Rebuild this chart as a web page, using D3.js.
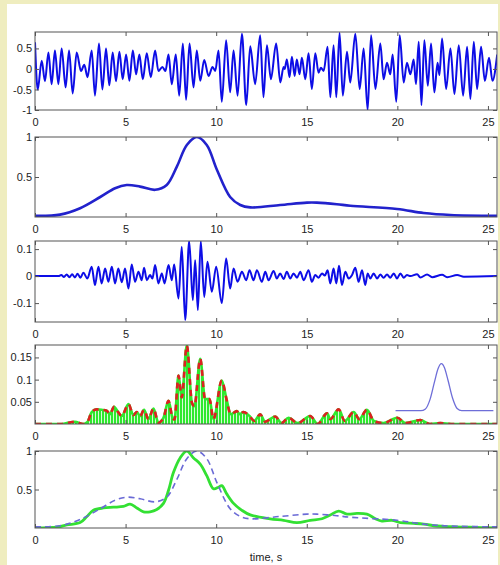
<!DOCTYPE html>
<html><head><meta charset="utf-8">
<script src="https://cdn.jsdelivr.net/npm/d3@7"></script>
<style>
html,body{margin:0;padding:0;background:#efedbf;}
svg{display:block;}
text{font-family:"Liberation Sans",Arial,sans-serif;}
</style></head>
<body>
<svg id="chart" width="500" height="565"></svg>
<script>
// ---------- data ----------
const xTicks = [0, 5, 10, 15, 20, 25];

// panel 1: raw signal, extrema [time s, value]
const rawSignal = [[0,0.65],[0.15,-0.5],[0.37,0.2],[0.55,-0.3],[0.74,0.4],[0.92,-0.37],[1.1,0.45],[1.29,-0.37],[1.47,0.5],[1.69,-0.45],[1.88,0.45],[2.08,-0.6],[2.3,0.4],[2.54,-0.05],[2.72,0.1],[2.9,-0.2],[3.13,0.45],[3.31,-0.65],[3.53,0.62],[3.72,-0.5],[3.92,0.5],[4.1,-0.4],[4.29,0.4],[4.47,-0.3],[4.66,0.42],[4.84,-0.25],[5.03,0.35],[5.21,-0.29],[5.4,0.45],[5.58,-0.13],[5.76,0.35],[5.95,-0.25],[6.17,0.38],[6.39,-0.2],[6.63,0.45],[6.81,-0.05],[7.03,0.05],[7.2,-0.05],[7.37,0.35],[7.55,-0.37],[7.77,0.35],[7.96,-0.65],[8.16,0.62],[8.34,-0.75],[8.53,0.62],[8.75,-0.45],[8.93,0.45],[9.12,-0.29],[9.34,0.22],[9.58,-0.17],[9.8,0.05],[9.95,-0.05],[10.13,0.45],[10.31,-0.8],[10.55,0.7],[10.77,-0.57],[10.96,0.45],[11.18,-0.65],[11.42,0.86],[11.66,-0.88],[11.88,0.55],[12.15,-0.37],[12.43,0.82],[12.61,-0.69],[12.8,0.58],[13.02,-0.25],[13.31,0.62],[13.54,-0.33],[13.72,0.05],[13.78,-0.0],[13.9,0.23],[14.05,-0.2],[14.18,0.3],[14.33,-0.17],[14.45,0.23],[14.6,-0.13],[14.73,0.27],[14.92,-0.25],[15.1,0.38],[15.28,-0.49],[15.47,0.38],[15.65,-0.09],[15.78,0.03],[15.93,-0.05],[16.15,0.54],[16.3,-0.69],[16.48,0.58],[16.63,-0.69],[16.81,0.88],[16.99,-0.65],[17.22,0.42],[17.4,-0.33],[17.68,0.86],[17.92,-0.49],[18.14,0.5],[18.36,-1.0],[18.55,0.82],[18.79,-0.49],[19.06,0.62],[19.24,-0.25],[19.43,0.15],[19.61,-0.13],[19.74,0.35],[19.94,-0.8],[20.13,0.82],[20.35,-0.33],[20.53,0.15],[20.72,-0.13],[20.9,0.23],[21.03,-0.37],[21.18,0.66],[21.33,-0.88],[21.49,0.7],[21.68,-0.41],[21.86,0.62],[22.04,-0.57],[22.22,0.15],[22.32,-0.15],[22.47,0.74],[22.69,-0.49],[22.93,0.5],[23.15,-0.61],[23.39,0.58],[23.63,-0.65],[23.85,0.54],[24.03,-0.73],[24.22,0.66],[24.4,-0.49],[24.62,0.54],[24.83,-0.29],[25.06,0.27],[25.25,-0.29],[25.51,0.35]];

// panel 2 (and dashed in panel 5): smooth envelope
const envelope = [[0,0.015],[1.38,0.03],[2.49,0.11],[3.6,0.25],[4.42,0.36],[5.06,0.4],[5.8,0.38],[6.63,0.34],[7.27,0.4],[7.83,0.63],[8.38,0.9],[8.93,1.0],[9.48,0.9],[10.04,0.59],[10.77,0.25],[11.33,0.15],[11.88,0.12],[13.53,0.15],[15.01,0.18],[15.56,0.18],[16.66,0.16],[17.4,0.14],[19.98,0.1],[21.45,0.05],[22.93,0.025],[25.5,0.015]];

// panel 3: filtered signal, extrema
const filtered = [[0,0],[1.3,0],[1.45,0.004],[1.6,-0.003],[1.75,0.006],[1.9,-0.004],[2.05,0.007],[2.2,-0.005],[2.35,0.009],[2.5,-0.006],[2.67,0.012],[2.89,-0.009],[3.13,0.035],[3.31,-0.033],[3.5,0.035],[3.68,-0.027],[3.87,0.028],[4.05,-0.021],[4.24,0.035],[4.42,-0.027],[4.6,0.028],[4.79,-0.023],[4.97,0.028],[5.16,-0.046],[5.34,0.043],[5.52,-0.021],[5.71,0.016],[5.89,-0.015],[6.02,0.031],[6.17,-0.015],[6.35,0.004],[6.48,-0.009],[6.63,0.041],[6.81,-0.027],[7.0,0.01],[7.15,-0.027],[7.37,0.041],[7.55,-0.015],[7.68,0.043],[7.92,-0.083],[8.1,0.109],[8.29,-0.163],[8.51,0.13],[8.71,-0.089],[8.84,0.059],[8.99,-0.126],[9.15,0.13],[9.34,-0.077],[9.52,0.053],[9.76,-0.058],[10.0,0.035],[10.31,-0.1],[10.55,0.065],[10.77,-0.046],[10.96,0.028],[11.18,-0.021],[11.42,0.016],[11.66,-0.015],[11.84,0.022],[12.06,-0.015],[12.25,0.022],[12.52,-0.021],[12.71,0.016],[12.89,-0.015],[13.17,0.019],[13.35,-0.009],[13.53,0.01],[13.72,-0.011],[13.9,0.016],[14.09,-0.009],[14.27,0.01],[14.46,-0.006],[14.64,0.016],[14.83,-0.015],[15.1,0.022],[15.28,-0.021],[15.47,0.004],[15.65,-0.006],[15.84,0.01],[16.0,0.002],[16.15,0.022],[16.3,-0.027],[16.48,0.028],[16.63,-0.027],[16.78,0.038],[16.94,-0.033],[17.13,0.016],[17.31,-0.009],[17.5,0.004],[17.68,0.031],[17.86,-0.021],[18.05,0.022],[18.23,-0.033],[18.36,0.01],[18.51,-0.009],[18.69,0.01],[18.88,-0.009],[19.06,0.006],[19.24,-0.006],[19.43,0.006],[19.61,-0.006],[19.8,0.01],[19.98,-0.009],[20.17,0.01],[20.35,-0.006],[20.53,0.004],[20.72,0],[21.09,0.007],[21.27,-0.005],[21.64,0.006],[21.92,-0.004],[22.47,0.005],[22.75,-0.004],[23.3,0.004],[23.67,-0.002],[25.5,0]];

// panel 4: instantaneous power envelope
const power = [[0,0],[1.4,0],[1.75,0.002],[2.2,0.005],[2.67,0],[2.9,0.005],[3.13,0.027],[3.4,0.033],[3.68,0.032],[3.96,0.03],[4.14,0.022],[4.36,0.039],[4.6,0.026],[4.79,0.018],[5.16,0.045],[5.43,0.02],[5.62,0.027],[5.8,0.018],[6.02,0.032],[6.26,0.011],[6.54,0.035],[6.81,0.003],[7.09,0.014],[7.37,0.052],[7.59,0.014],[7.7,0.01],[7.92,0.109],[8.1,0.06],[8.38,0.177],[8.66,0.048],[8.8,0.04],[9.12,0.147],[9.39,0.056],[9.63,0.056],[9.85,0.011],[10.31,0.098],[10.59,0.052],[10.8,0.022],[11.14,0.029],[11.3,0.022],[11.5,0.027],[11.84,0.018],[12.1,0.007],[12.43,0.022],[12.7,0.005],[13.26,0.017],[13.6,0.002],[14.0,0.014],[14.5,0.002],[15.19,0.018],[15.6,0],[16.12,0.024],[16.3,0.011],[16.76,0.033],[17.1,0.007],[17.59,0.027],[17.9,0.011],[18.32,0.032],[18.7,0.007],[19.24,0.002],[20.0,0.014],[20.45,0.002],[21.27,0.009],[21.8,0],[22.37,0.002],[23.0,0],[25.5,0]];

// panel 4 inset: smoothing kernel
const kernel = [[19.9,0.03],[21.3,0.03],[21.55,0.034],[21.8,0.055],[22.05,0.095],[22.25,0.125],[22.43,0.136],[22.6,0.127],[22.8,0.098],[23.05,0.058],[23.3,0.035],[23.55,0.03],[25.3,0.03]];

// panel 5: smoothed power (normalised)
const smoothed = [[0,0],[1.2,0.01],[1.75,0.04],[2.49,0.07],[2.85,0.145],[3.22,0.23],[3.78,0.26],[4.33,0.27],[4.88,0.28],[5.25,0.31],[5.62,0.26],[5.99,0.21],[6.35,0.21],[6.72,0.24],[7.09,0.32],[7.37,0.49],[7.64,0.72],[8.01,0.91],[8.38,1.0],[8.75,0.91],[9.12,0.83],[9.48,0.68],[9.85,0.51],[10.13,0.53],[10.31,0.55],[10.59,0.44],[10.96,0.32],[11.42,0.23],[11.88,0.17],[12.98,0.12],[13.72,0.1],[14.46,0.07],[15.19,0.1],[15.84,0.12],[16.3,0.17],[16.76,0.22],[17.22,0.18],[17.77,0.19],[18.32,0.18],[18.79,0.12],[19.15,0.09],[19.7,0.1],[20.17,0.07],[20.9,0.06],[21.45,0.05],[22.19,0.026],[22.93,0.017],[24.03,0.01],[25.5,0]];

const yTicks1 = [-1, -0.5, 0, 0.5];
const yTicks2 = [0.5, 1];
const yTicks3 = [-0.1, 0, 0.1];
const yTicks4 = [0.05, 0.1, 0.15];
const yTicks5 = [0.5, 1];
const xLabel = "time, s";

// ---------- layout ----------
const svg = d3.select("#chart");
svg.append("rect").attr("x",0).attr("y",0).attr("width",500).attr("height",565).attr("fill","#efedbf");
svg.append("rect").attr("x",7).attr("y",4).attr("width",491).attr("height",561).attr("fill","#ffffff");

const left = 35, right = 497;
const x = d3.scaleLinear().domain([0, 25.5]).range([left, right]);

const panels = [
  {top:32, bottom:110, dom:[-1,0.9], ticks:yTicks1},
  {top:137, bottom:217, dom:[0,1], ticks:yTicks2},
  {top:241, bottom:322, dom:[-0.17,0.13], ticks:yTicks3},
  {top:345, bottom:424, dom:[0,0.178], ticks:yTicks4},
  {top:451, bottom:528, dom:[0,1], ticks:yTicks5}
];

const defs = svg.append("defs");
const pat = defs.append("pattern").attr("id","stripes").attr("patternUnits","userSpaceOnUse")
  .attr("width",3).attr("height",10);
pat.append("rect").attr("x",0).attr("y",0).attr("width",2.2).attr("height",10).attr("fill","#2ee82e");

panels.forEach((p,i) => {
  p.y = d3.scaleLinear().domain(p.dom).range([p.bottom, p.top]);
  defs.append("clipPath").attr("id","clip"+i).append("rect")
    .attr("x",left).attr("y",p.top).attr("width",right-left).attr("height",p.bottom-p.top);
  p.g = svg.append("g");
  p.plot = p.g.append("g").attr("clip-path",`url(#clip${i})`);
});

function lineOf(p, curve){ return d3.line().x(d=>x(d[0])).y(d=>p.y(d[1])).curve(curve); }

// panel 1
panels[0].plot.append("path").datum(rawSignal)
  .attr("d", lineOf(panels[0], d3.curveMonotoneX))
  .attr("fill","none").attr("stroke","#0d0de6").attr("stroke-width",2);

// panel 2
panels[1].plot.append("path").datum(envelope)
  .attr("d", lineOf(panels[1], d3.curveCatmullRom.alpha(0.5)))
  .attr("fill","none").attr("stroke","#2222cc").attr("stroke-width",2.6);

// panel 3
panels[2].plot.append("path").datum(filtered)
  .attr("d", lineOf(panels[2], d3.curveMonotoneX))
  .attr("fill","none").attr("stroke","#0d0de6").attr("stroke-width",2);

// panel 4
{
  const p = panels[3];
  const area = d3.area().x(d=>x(d[0])).y0(p.y(0)).y1(d=>p.y(d[1])).curve(d3.curveMonotoneX);
  p.plot.append("path").datum(power).attr("d",area).attr("fill","url(#stripes)");
  p.plot.append("path").datum(power).attr("d",lineOf(p,d3.curveMonotoneX))
    .attr("fill","none").attr("stroke","#2ee82e").attr("stroke-width",2.6);
  p.plot.append("path").datum(power).attr("d",lineOf(p,d3.curveMonotoneX))
    .attr("fill","none").attr("stroke","#dd2020").attr("stroke-width",2.6)
    .attr("stroke-dasharray","6,5");
  p.plot.append("path").datum(kernel).attr("d",lineOf(p,d3.curveMonotoneX))
    .attr("fill","none").attr("stroke","#6e6ed8").attr("stroke-width",1.3);
}

// panel 5
{
  const p = panels[4];
  p.plot.append("path").datum(smoothed).attr("d",lineOf(p,d3.curveCatmullRom.alpha(0.5)))
    .attr("fill","none").attr("stroke","#33e033").attr("stroke-width",2.8);
  p.plot.append("path").datum(envelope).attr("d",lineOf(p,d3.curveCatmullRom.alpha(0.5)))
    .attr("fill","none").attr("stroke","#6a6ad6").attr("stroke-width",1.6)
    .attr("stroke-dasharray","6,4");
}

// axes & frames
panels.forEach(p => {
  const fmt = d => String(d);
  const gb = p.g.append("g").attr("transform",`translate(0,${p.bottom})`)
    .call(d3.axisBottom(x).tickValues(xTicks).tickSize(-4).tickPadding(8).tickFormat(fmt));
  const gt = p.g.append("g").attr("transform",`translate(0,${p.top})`)
    .call(d3.axisTop(x).tickValues(xTicks).tickSize(-4).tickFormat(""));
  const gl = p.g.append("g").attr("transform",`translate(${left},0)`)
    .call(d3.axisLeft(p.y).tickValues(p.ticks).tickSize(-4).tickPadding(3).tickFormat(fmt));
  const gr = p.g.append("g").attr("transform",`translate(${right},0)`)
    .call(d3.axisRight(p.y).tickValues(p.ticks).tickSize(-4).tickFormat(""));
  [gb,gt,gl,gr].forEach(g => {
    g.select(".domain").remove();
    g.selectAll("line").attr("stroke","#555");
    g.selectAll("text").attr("fill","#222").attr("font-size",11);
  });
  p.g.append("rect").attr("x",left).attr("y",p.top).attr("width",right-left).attr("height",p.bottom-p.top)
    .attr("fill","none").attr("stroke","#555").attr("stroke-width",1);
});

svg.append("text").attr("x",(left+right)/2).attr("y",561).attr("text-anchor","middle")
  .attr("font-size",11).attr("fill","#222").text(xLabel);
</script>
</body></html>
